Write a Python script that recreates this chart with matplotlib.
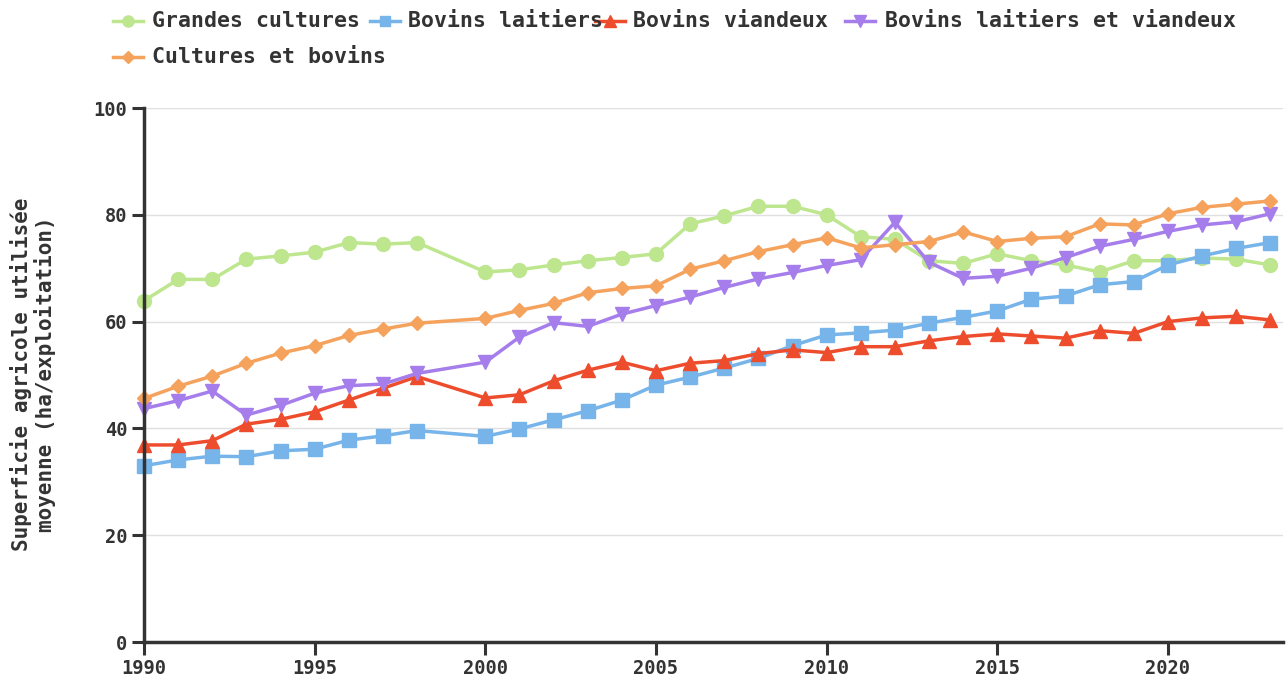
import matplotlib.pyplot as plt
from matplotlib.lines import Line2D

# Superficie agricole utilisée moyenne par orientation (ha/exploitation)
years = [1990, 1991, 1992, 1993, 1994, 1995, 1996, 1997, 1998,
         2000, 2001, 2002, 2003, 2004, 2005, 2006, 2007, 2008, 2009,
         2010, 2011, 2012, 2013, 2014, 2015, 2016, 2017, 2018, 2019,
         2020, 2021, 2022, 2023]

grandes_cultures = [63.9, 67.9, 67.9, 71.7, 72.3, 73.0, 74.8, 74.5, 74.8,
                    69.3, 69.7, 70.6, 71.4, 72.0, 72.7, 78.3, 79.8, 81.6, 81.6,
                    80.0, 75.9, 75.4, 71.4, 70.9, 72.7, 71.4, 70.6, 69.3, 71.4,
                    71.4, 71.9, 71.7, 70.6]
bovins_laitiers = [33.0, 34.1, 34.8, 34.7, 35.8, 36.1, 37.8, 38.6, 39.6,
                   38.5, 39.9, 41.6, 43.3, 45.3, 48.1, 49.6, 51.3, 53.1, 55.5,
                   57.5, 57.9, 58.4, 59.7, 60.8, 62.0, 64.2, 64.8, 66.9, 67.5,
                   70.6, 72.3, 73.7, 74.8]
bovins_viandeux = [36.9, 36.9, 37.7, 40.8, 41.7, 43.1, 45.3, 47.5, 49.7,
                   45.7, 46.3, 48.9, 50.9, 52.4, 50.8, 52.2, 52.7, 54.0, 54.7,
                   54.2, 55.3, 55.3, 56.4, 57.2, 57.7, 57.3, 56.9, 58.3, 57.8,
                   60.0, 60.7, 61.0, 60.3]
bovins_lait_viande = [43.7, 45.2, 47.0, 42.5, 44.3, 46.6, 48.0, 48.3, 50.3,
                      52.4, 57.1, 59.8, 59.1, 61.4, 63.0, 64.6, 66.4, 68.0, 69.2,
                      70.5, 71.6, 78.6, 71.1, 68.1, 68.5, 70.0, 72.0, 74.1, 75.4,
                      76.9, 78.1, 78.7, 80.2]
cultures_bovins = [45.6, 47.9, 49.8, 52.2, 54.1, 55.5, 57.4, 58.6, 59.7,
                   60.6, 62.1, 63.4, 65.4, 66.2, 66.7, 69.8, 71.4, 73.1, 74.4,
                   75.7, 73.8, 74.4, 75.0, 76.8, 75.0, 75.6, 75.9, 78.3, 78.1,
                   80.2, 81.4, 82.0, 82.6]

labels = ["Grandes cultures", "Bovins laitiers", "Bovins viandeux",
          "Bovins laitiers et viandeux", "Cultures et bovins"]
series = [grandes_cultures, bovins_laitiers, bovins_viandeux,
          bovins_lait_viande, cultures_bovins]
colors = ["#bde68f", "#76b4ea", "#ee4d2d", "#a67eec", "#f5a25d"]
markers = ["o", "s", "^", "v", "D"]
msizes = [10, 9.5, 10, 10, 7.5]

plt.rcParams['font.family'] = 'DejaVu Sans Mono'
plt.rcParams['text.color'] = '#333333'

W, H = 1288, 682
fig = plt.figure(figsize=(W / 100, H / 100), dpi=100)
ax = fig.add_axes([144 / W, 1 - 642 / H, (1283 - 144) / W, (642 - 108) / H])

for vals, lab, c, m, ms in zip(series, labels, colors, markers, msizes):
    ax.plot(years, vals, color=c, marker=m, markersize=ms, linewidth=2.5,
            label=lab, clip_on=False)

ax.set_xlim(1990, 2023.37)
ax.set_ylim(0, 100)
ax.set_xticks([1990, 1995, 2000, 2005, 2010, 2015, 2020])
ax.set_yticks([0, 20, 40, 60, 80, 100])
ax.yaxis.grid(True, color='#e0e0e0', linewidth=1)
ax.set_axisbelow(True)

for s in ['top', 'right']:
    ax.spines[s].set_visible(False)
for s in ['left', 'bottom']:
    ax.spines[s].set_color('#333333')
    ax.spines[s].set_linewidth(2.5)

ax.tick_params(axis='both', length=9, width=2.2, color='#333333',
               labelsize=13.5, labelcolor='#333333', pad=3)
for t in ax.get_xticklabels() + ax.get_yticklabels():
    t.set_fontweight('bold')

fig.text(33 / W, 1 - 374 / H, "Superficie agricole utilisée\nmoyenne (ha/exploitation)",
         rotation=90, ha='center', va='center', multialignment='center',
         fontsize=15, fontweight='bold', color='#333333', linespacing=1.1)

# manual legend laid out like the original (flowing items)
leg_pos = [(128, 21, 152), (385, 21, 408), (610, 21, 633), (860, 21, 885), (128, 57, 152)]
for (mx, my, tx), lab, c, m, ms in zip(leg_pos, labels, colors, markers, msizes):
    fy = 1 - my / H
    fig.add_artist(Line2D([(mx - 15) / W, (mx + 15) / W], [fy, fy], color=c,
                          linewidth=2.5, transform=fig.transFigure))
    fig.add_artist(Line2D([mx / W], [fy], color=c, marker=m, markersize=ms * 0.8,
                          linestyle='none', transform=fig.transFigure))
    fig.text(tx / W, fy, lab, ha='left', va='center', fontsize=15.5,
             fontweight='bold', color='#333333')

fig.savefig('out.png', dpi=100)
